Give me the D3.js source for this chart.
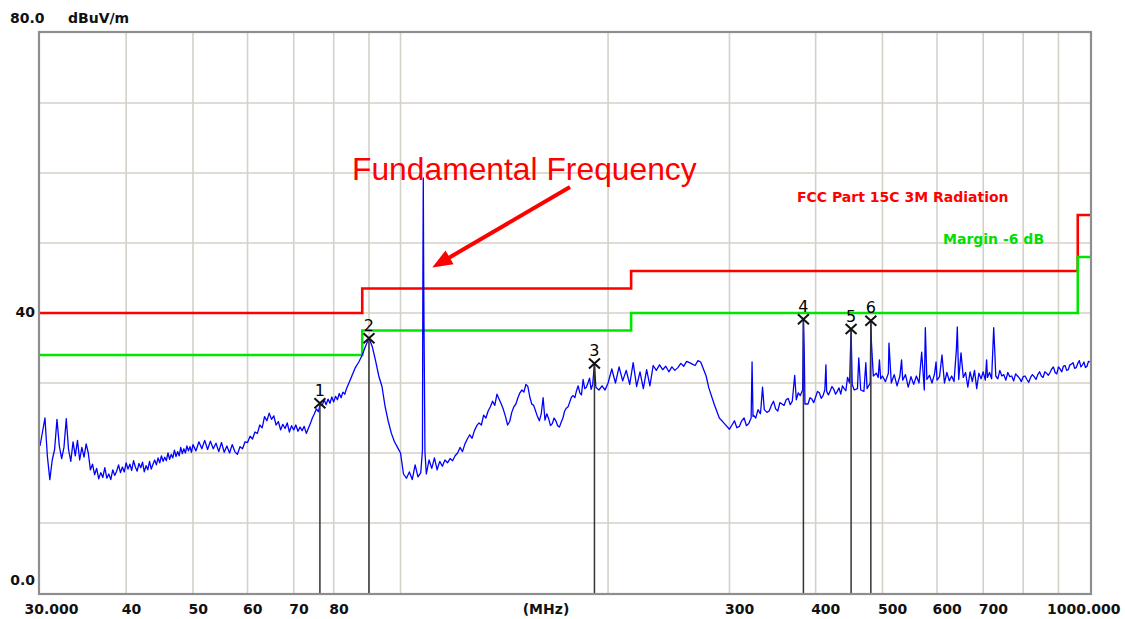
<!DOCTYPE html>
<html><head><meta charset="utf-8">
<script src="https://cdn.jsdelivr.net/npm/d3@7"></script>
<style>html,body{margin:0;padding:0;background:#fff;}svg{display:block;}</style>
</head><body>
<svg id="chart" width="1125" height="619"></svg>
<script>
// ---------------- DATA ----------------
const xDomainMHz = [30, 1000];
const yDomainDb = [0, 80];
const gridFreqs = [40, 50, 60, 70, 80, 90, 100, 200, 300, 400, 500, 600, 700, 800, 900];
const gridLevels = [10, 20, 30, 40, 50, 60, 70];
const xTickFreqs = [30, 40, 50, 60, 70, 80, 300, 400, 500, 600, 700, 1000];
const xTickLabels = ["30.000", "40", "50", "60", "70", "80", "300", "400", "500", "600", "700", "1000.000"];
const yTickLevels = [80, 40, 0];
const yTickLabels = ["80.0", "40", "0.0"];
const unitLabel = "dBuV/m";
const xUnitLabel = "(MHz)";

// FCC Part 15C limit (step after each frequency) and margin
const limitFreq = [30, 88, 216, 960, 1000];
const limitLevel = [40, 43.5, 46, 54, 54];
const marginDb = 6;
const limitName = "FCC Part 15C 3M Radiation";
const marginName = "Margin -6 dB";

// Markers
const markerNo = [1, 2, 3, 4, 5, 6];
const markerFreq = [76.4, 90.0, 191.1, 384.0, 450.3, 481.0];
const markerLevel = [27.1, 36.4, 32.8, 39.1, 37.7, 38.9];

// Fundamental annotation
const fundamentalText = "Fundamental Frequency";
const fundamentalFreq = 107.9;
const fundamentalArrowLevel = 46.5;

// Measured trace [MHz, dBuV/m]
const trace = [
[30.0,21.0],[30.25,23.0],[30.5,25.0],[30.75,19.5],[31.0,16.2],[31.25,19.0],[31.5,20.5],[31.75,24.8],[32.0,21.0],[32.25,19.2],[32.5,20.8],[32.75,24.9],[33.0,20.5],[33.25,18.8],[33.5,21.6],[33.75,19.6],[34.0,21.8],[34.25,19.0],[34.5,20.8],[34.75,19.4],[35.0,21.3],[35.25,20.0],[35.5,17.6],[35.75,18.4],
[36.0,16.9],[36.25,17.8],[36.5,16.3],[36.75,17.2],[37.0,16.5],[37.25,17.9],[37.5,16.4],[37.75,17.0],[38.0,16.2],[38.25,17.6],[38.5,16.8],[38.75,17.4],[39.0,18.3],[39.25,17.2],[39.5,18.0],[39.75,17.3],[40.0,18.6],[40.25,17.7],[40.5,18.4],[40.75,17.5],[41.0,18.9],[41.25,18.0],[41.5,17.4],[41.75,18.5],[42.0,17.9],[42.25,18.7],[42.5,17.3],[42.75,18.2],[43.0,17.6],[43.25,18.8],[43.5,17.7],[43.75,18.4],[44.0,19.0],[44.25,18.3],[44.5,19.3],[44.75,18.6],[45.0,19.6],[45.25,18.8],[45.5,19.4],[45.75,18.9],[46.0,20.0],[46.25,19.1],[46.5,19.8],[46.75,19.3],[47.0,20.4],[47.25,19.5],[47.5,20.2],[47.75,19.6],[48.0,20.8],[48.25,19.9],[48.5,20.6],[48.75,20.0],[49.0,21.0],[49.25,20.3],[49.5,20.9],[49.75,20.1],[50.0,21.2],
[50.5,20.3],[51,21.6],[51.5,20.6],[52,21.8],[52.5,20.5],[53,21.7],[53.5,20.6],[54,21.4],[54.5,20.2],[55,21.5],[55.5,20.1],[56,21.0],[56.5,20.0],[57,21.2],[57.5,20.2],[58,19.8],[58.5,20.9],[59,20.6],[59.5,21.6],[60,21.5],
[60.5,22.4],[61,22.0],[61.5,23.0],[62,22.8],[62.5,24.0],[63,23.6],[63.5,25.2],[64,24.6],[64.5,25.7],[65,24.8],[65.5,25.3],[66,24.0],[66.5,24.5],[67,23.3],[67.5,24.1],[68,23.5],[68.5,24.3],[69,23.0],[69.5,23.9],[70,23.3],[70.5,24.0],[71,23.1],[71.5,23.7],[72,23.2],[72.5,23.8],[73,22.8],[73.5,23.5],[74,24.2],[74.5,25.0],[75,25.6],[75.5,26.3],[76,25.9],[76.5,27.0],[77,26.8],[77.5,27.6],[78,26.9],[78.5,27.7],[79,27.1],[79.5,28.0],[80,27.3],[80.5,28.1],[81,27.6],[81.5,28.5],[82,27.9],[82.5,28.7],[83,28.4],[83.5,29.2],[84,29.8],
[85,31.0],[86,32.2],[87,33.0],[88,34.0],[89,35.3],[90,36.4],[91,35.2],[92,33.2],[93,31.0],[94,29.5],[95,26.6],[96,24.5],[97,22.8],[98,21.6],[99,20.8],[100,20.0],
[101,17.0],[102,16.4],[103,17.3],[104,16.2],[105,18.3],[106,16.6],[107,17.2],[107.6,20.4],[107.75,45.0],[107.9,59.3],[108.05,45.0],[108.2,36.0],[108.5,20.2],[109,17.0],[110,19.0],[111,17.8],[112,19.3],[113,17.6],[114,18.8],[115,18.1],[116,19.0],[117,18.6],[118,19.2],[119,18.9],[120,19.6],
[121,20.0],[122,20.8],[123,20.2],[124,21.3],[125,22.0],[126,22.6],[127,22.1],[128,23.2],[129,23.9],[130,24.3],[131,24.0],[132,25.4],[133,25.0],[134,26.0],[135,26.6],[136,27.4],[137,26.8],[138,28.4],[140,27.0],[141,26.2],[142,25.2],[143,24.0],[144,24.5],[145,25.8],[146,26.6],[147,27.0],[148,27.9],[149,28.6],[150,29.0],[151,28.7],[152,29.8],[153,29.5],[154,28.0],[155,27.0],[156,26.8],[157,26.0],[158,25.2],[159,24.6],[160,25.6],[161,27.9],[162,24.7],[163,25.6],[164,24.9],[165,23.9],[166,24.2],[167,25.0],[168,24.6],[169,23.9],[170,23.7],[171,24.4],[172,25.0],[173,26.0],[174,26.4],[175,26.6],[176,27.3],[177,28.0],[178,28.2],[179,27.9],[180,28.9],[181,29.6],[182,28.6],[183,28.3],[184,30.5],[185,29.2],[186,29.4],[187,30.0],[188,30.7],[189,29.1],[190,29.8],[191.1,32.8],[192,29.4],[194,29.0],[196,29.6],[198,29.0],[200,30.0],
[202.5,32.0],[205,30.0],[207.5,32.3],[210,30.3],[212.5,31.8],[215,29.8],[217.5,32.9],[220,29.5],[222.5,31.6],[225,29.2],[227.5,31.9],[230,29.6],[232.5,32.5],[235,31.8],[237.5,32.6],[240,31.9],[242.5,32.4],[245,31.6],[247.5,32.3],[250,31.8],[252.5,32.2],[255,32.8],[257.5,32.4],[260,33.1],[262.5,32.9],[265,32.7],[267.5,32.5],[270,33.2],[272.5,33.0],[275,32.0],[277.5,31.0],[280,29.3],[285,27.0],[290,25.0],[295,24.2],[300,23.4],[302.5,24.0],[305,24.6],[307.5,23.6],[310,23.8],[312.5,24.6],[315,25.0],[317.5,23.9],[320,24.2],[322.5,25.0],[323.5,33.0],[324.5,25.2],[325,25.4],[327.5,25.0],[330,26.2],[332.5,25.6],[333,26.0],[335,29.4],[337,26.2],[340,25.8],[342.5,26.0],[345,26.8],[347.5,27.4],[350,26.3],[352.5,26.0],[355,27.2],[357.5,27.0],[360,26.8],[362.5,27.6],[365,27.8],[367.5,26.9],[370,27.4],[373,31.1],[375,27.6],[377.5,28.6],[380,28.2],[383,29.0],[384,39.1],[385,35.0],[386,27.0],[390,27.0],[392.5,27.9],[395,27.7],[397.5,27.2],[400,28.0],[402.5,28.8],[405,28.6],[407.5,27.8],[410,28.2],[412.5,29.0],[414,32.6],[415,28.8],[417.5,28.3],[420,28.9],[422.5,29.5],[425,29.1],[427.5,28.4],[430,28.8],[432.5,29.3],[435,28.4],[437.5,29.6],[440,29.2],[442.5,28.9],[445,30.8],[448,30.0],[450.3,37.7],[451,34.4],[452,29.8],[455,29.0],[460,29.2],[462,33.6],[465,29.0],[470,28.8],[473,32.9],[475,29.2],[480,30.0],[481,38.9],[482,35.7],[485,31.0],[490,31.4],[493,30.8],[495,33.3],[497,30.6],[500,31.0],
[505,30.2],[510,31.4],[511,35.7],[515,30.0],[520,31.2],[525,29.6],[530,31.0],[533,33.3],[535,30.4],[540,31.2],[545,29.4],[550,30.9],[555,29.8],[560,31.0],[565,30.0],[570,34.4],[575,29.0],[577,37.9],[580,30.5],[585,31.1],[590,30.0],[595,31.3],[598,33.0],[600,30.4],[605,30.9],[610,34.0],[615,30.0],[620,31.5],[625,30.3],[630,31.0],[635,30.2],[640,34.7],[642,38.0],[645,30.5],[650,34.3],[655,30.8],[660,31.5],[665,29.4],[670,31.6],[675,30.2],[680,31.8],[685,29.2],[690,31.4],[695,30.6],[700,31.6],[705,30.4],[708,33.3],[710,30.8],[715,31.5],[720,30.6],[725,37.9],[728,34.0],[730,31.0],[735,30.6],[740,31.8],[745,31.0],[750,31.2],[755,30.4],[760,31.5],[765,30.9],[770,31.0],[775,30.3],[780,31.3],[785,31.0],[790,30.7],[795,30.2],[800,30.9],[805,31.0],[810,30.5],[815,30.1],[820,30.8],[825,31.2],[830,30.9],[835,30.5],[840,31.2],[845,31.6],[850,31.0],[855,30.8],[860,31.6],[865,31.4],[870,31.1],[875,31.5],[880,32.0],[885,32.3],[890,31.5],[895,31.3],[900,32.3],[905,32.0],[910,31.6],[915,32.4],[920,32.5],[925,31.8],[930,31.9],[935,32.6],[940,32.7],[945,32.9],[950,32.1],[955,32.2],[960,32.8],[965,33.2],[970,32.3],[975,32.6],[980,33.0],[985,32.2],[990,32.4],[995,33.1],[1000,33.0]
];

// ---------------- DRAW ----------------
const svg = d3.select("#chart");
const x = d3.scaleLog().domain(xDomainMHz).range([40, 1090]);
const y = d3.scaleLinear().domain(yDomainDb).range([593, 33]);
const axisFont = "'DejaVu Sans', Verdana, sans-serif";

svg.append("rect").attr("width", 1125).attr("height", 619).attr("fill", "#fff");

// grid
const grid = svg.append("g").attr("stroke", "#d5d1c9").attr("stroke-width", 1.6);
grid.selectAll("line.v").data(gridFreqs).join("line")
  .attr("x1", d => x(d)).attr("x2", d => x(d)).attr("y1", y(80)).attr("y2", y(0));
grid.selectAll("line.h").data(gridLevels).join("line")
  .attr("x1", x(30)).attr("x2", x(1000)).attr("y1", d => y(d)).attr("y2", d => y(d));

// limit and margin lines
const limitPts = limitFreq.map((f, i) => [f, limitLevel[i]]);
const marginPts = limitFreq.map((f, i) => [f, limitLevel[i] - marginDb]);
const stepLine = d3.line().x(d => x(d[0])).y(d => y(d[1])).curve(d3.curveStepAfter);
svg.append("path").attr("d", stepLine(limitPts)).attr("fill", "none").attr("stroke", "#ff0000").attr("stroke-width", 2.6);
svg.append("path").attr("d", stepLine(marginPts)).attr("fill", "none").attr("stroke", "#00e600").attr("stroke-width", 2.6);

// trace
const traceLine = d3.line().x(d => x(d[0])).y(d => y(d[1]));
svg.append("path").attr("d", traceLine(trace)).attr("fill", "none")
  .attr("stroke", "#0000ff").attr("stroke-width", 1.3).attr("stroke-linejoin", "round");

// markers
const markers = markerNo.map((n, i) => ({ n, f: markerFreq[i], v: markerLevel[i] }));
const mg = svg.append("g");
mg.selectAll("line").data(markers).join("line")
  .attr("x1", d => x(d.f)).attr("x2", d => x(d.f)).attr("y1", d => y(d.v)).attr("y2", y(0))
  .attr("stroke", "#333").attr("stroke-width", 1.5);
mg.selectAll("path").data(markers).join("path")
  .attr("d", d => { const cx = x(d.f), cy = y(d.v); return `M${cx-5.5},${cy-5}L${cx+5.5},${cy+5}M${cx-5.5},${cy+5}L${cx+5.5},${cy-5}`; })
  .attr("stroke", "#111").attr("stroke-width", 2).attr("fill", "none");
mg.selectAll("text").data(markers).join("text")
  .attr("x", d => x(d.f)).attr("y", d => y(d.v) - 7.5).attr("text-anchor", "middle")
  .attr("font-family", axisFont).attr("font-size", 16).attr("fill", "#000").text(d => d.n);

// frame
svg.append("rect").attr("x", x(30) - 1).attr("y", y(80) - 1)
  .attr("width", x(1000) - x(30) + 2).attr("height", y(0) - y(80) + 2)
  .attr("fill", "none").attr("stroke", "#8e8e8e").attr("stroke-width", 2.2);

// x axis labels
const xAxis = d3.axisBottom(x).tickValues(xTickFreqs).tickSize(0)
  .tickFormat(d => xTickLabels[xTickFreqs.indexOf(d)]);
const gx = svg.append("g").attr("transform", `translate(0,${y(0)})`).call(xAxis);
gx.select(".domain").remove();
gx.selectAll("text")
  .attr("font-family", axisFont).attr("font-size", 14).attr("font-weight", "bold").attr("fill", "#111")
  .attr("dy", null).attr("y", 21)
  .attr("text-anchor", d => d === 1000 ? "end" : "start")
  .attr("x", d => d === 30 ? -16 : d === 1000 ? 30 : -5);
svg.append("text").attr("x", 546).attr("y", y(0) + 21).attr("text-anchor", "middle")
  .attr("font-family", axisFont).attr("font-size", 14).attr("font-weight", "bold").attr("fill", "#111")
  .text(xUnitLabel);

// y axis labels
const yAxis = d3.axisLeft(y).tickValues(yTickLevels).tickSize(0)
  .tickFormat(d => yTickLabels[yTickLevels.indexOf(d)]);
const gy = svg.append("g").attr("transform", `translate(${x(30)},0)`).call(yAxis);
gy.select(".domain").remove();
gy.selectAll("text")
  .attr("font-family", axisFont).attr("font-size", 14).attr("font-weight", "bold").attr("fill", "#111")
  .attr("dy", null)
  .attr("text-anchor", d => d === 80 ? "start" : "end")
  .attr("x", d => d === 80 ? -30 : -5)
  .attr("y", d => d === 80 ? -10.5 : d === 40 ? 3 : -9);
svg.append("text").attr("x", 68).attr("y", y(80) - 10.5)
  .attr("font-family", axisFont).attr("font-size", 14).attr("font-weight", "bold").attr("fill", "#111")
  .text(unitLabel);

// legend labels
svg.append("text").attr("x", 797).attr("y", 202)
  .attr("font-family", axisFont).attr("font-size", 14).attr("font-weight", "bold").attr("fill", "#ff0000")
  .text(limitName);
svg.append("text").attr("x", 943).attr("y", 244)
  .attr("font-family", axisFont).attr("font-size", 14).attr("font-weight", "bold").attr("fill", "#00e000")
  .text(marginName);

// fundamental annotation
svg.append("text").attr("x", 352).attr("y", 180)
  .attr("font-family", "'Liberation Sans', Arial, sans-serif").attr("font-size", 31.8).attr("fill", "#ff0000")
  .text(fundamentalText);
const tip = [x(fundamentalFreq) + 9, y(fundamentalArrowLevel)];
const tail = [570, 187];
const len = Math.hypot(tip[0] - tail[0], tip[1] - tail[1]);
const ux = (tip[0] - tail[0]) / len, uy = (tip[1] - tail[1]) / len;
const headL = 20, headW = 8;
const base = [tip[0] - ux * headL, tip[1] - uy * headL];
svg.append("line").attr("x1", tail[0]).attr("y1", tail[1]).attr("x2", base[0] + ux * 2).attr("y2", base[1] + uy * 2)
  .attr("stroke", "#ff0000").attr("stroke-width", 4);
svg.append("path")
  .attr("d", `M${tip[0]},${tip[1]}L${base[0] - uy * headW},${base[1] + ux * headW}L${base[0] + uy * headW},${base[1] - ux * headW}Z`)
  .attr("fill", "#ff0000");
</script>
</body></html>
